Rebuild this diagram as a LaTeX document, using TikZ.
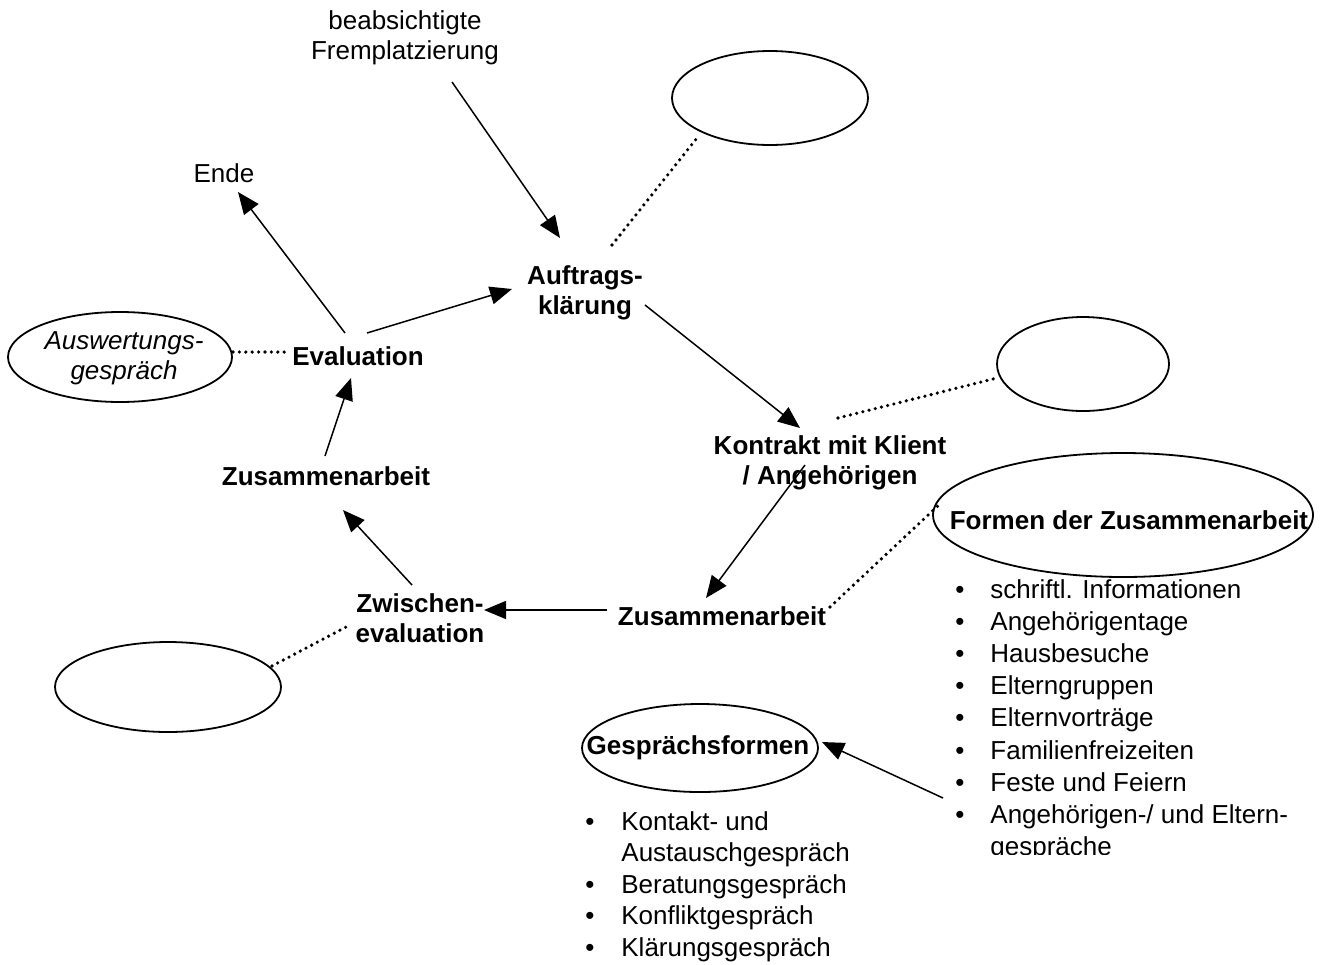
\documentclass[tikz,border=0pt]{standalone}
\usepackage{fontspec}
\setmainfont{Liberation Sans}
\usetikzlibrary{arrows.meta,shapes.geometric}
\begin{document}
\begin{tikzpicture}[x=0.5pt,y=-0.5pt,
  lbl/.style={inner sep=0pt, align=center, font=\fontsize{13}{15}\selectfont},
  blbl/.style={inner sep=0pt, align=center, font=\fontsize{13}{15}\selectfont\bfseries},
  ilbl/.style={inner sep=0pt, align=center, font=\fontsize{13}{15}\selectfont\itshape},
  ell/.style={draw, ellipse, inner sep=0pt, line width=0.9pt},
  arr/.style={line width=0.75pt, -{Triangle[length=11pt,width=9pt]}},
  dots/.style={line width=1.8pt, dash pattern=on 0pt off 3.2pt, line cap=round},
  lst/.style={inner sep=0pt, anchor=base west}]
\useasboundingbox (0,0) rectangle (1336,964);

% text nodes
\node[lbl] (frem) at (405,38) {beabsichtigte\\Fremplatzierung};
\node[lbl] (ende) at (224,173) {Ende};
\node[blbl] (auftrag) at (585,293) {Auftrags-\\klärung};
\node[blbl] (eval) at (358,356) {Evaluation};
\node[blbl] (kontrakt) at (830,463) {Kontrakt mit Klient\\/ Angehörigen};
\node[blbl] (zus1) at (326,476) {Zusammenarbeit};
\node[blbl] (zus2) at (722,616) {Zusammenarbeit};
\node[blbl] (zwischen) at (420,618) {Zwischen-\\evaluation};

% ellipses
\node[ell, minimum width=98pt, minimum height=47pt] (ell1) at (770,98) {};
\node[ell, minimum width=112pt, minimum height=45pt] (ausw) at (120,357) {};
\node[ilbl] (auswtext) at (124,358) {Auswertungs-\\gespräch};
\node[ell, minimum width=86pt, minimum height=47pt] (ell2) at (1083,364) {};
\node[ell, minimum width=190pt, minimum height=62pt] (formen) at (1123,515) {};
\node[blbl] (formentext) at (1129,520) {Formen der Zusammenarbeit};
\node[ell, minimum width=113pt, minimum height=45pt] (ell3) at (168,687) {};
\node[ell, minimum width=118pt, minimum height=44pt] (gespr) at (700,748) {};
\node[blbl] (gesprtext) at (698,748) {Gesprächsformen};

% lists
\begin{scope}
\clip (900,560) rectangle (1336,854);
\node[lst, font=\fontsize{13}{16.1}\selectfont] (list1) at (955,598) {\begin{tabular}[t]{@{}p{17.5pt}@{}l@{}}
•& schriftl. Informationen\\
•& Angehörigentage\\
•& Hausbesuche\\
•& Elterngruppen\\
•& Elternvorträge\\
•& Familienfreizeiten\\
•& Feste und Feiern\\
•& Angehörigen-/ und Eltern-\\
 & gespräche
\end{tabular}};
\end{scope}
\node[lst, font=\fontsize{13}{15.75}\selectfont] (list2) at (585,830) {\begin{tabular}[t]{@{}p{18pt}@{}l@{}}
•& Kontakt- und\\
 & Austauschgespräch\\
•& Beratungsgespräch\\
•& Konfliktgespräch\\
•& Klärungsgespräch
\end{tabular}};

% arrows
\draw[arr] ([shift={(47,44)}]frem.center) -- ([shift={(-25,-55)}]auftrag.center);
\draw[arr] ([shift={(-13,-23)}]eval.center) -- ([shift={(14,19)}]ende.center);
\draw[arr] ([shift={(9,-23)}]eval.center) -- ([shift={(-73,-4)}]auftrag.center);
\draw[arr] ([shift={(60,12)}]auftrag.center) -- ([shift={(-30,-35)}]kontrakt.center);
\draw[arr] ([shift={(-25,2)}]kontrakt.center) -- ([shift={(-16,-18)}]zus2.center);
\draw[arr] ([shift={(-115,-6)}]zus2.center) -- ([shift={(64,-8)}]zwischen.center);
\draw[arr] ([shift={(-8,-33)}]zwischen.center) -- ([shift={(17,34)}]zus1.center);
\draw[arr] ([shift={(-1,-20)}]zus1.center) -- ([shift={(-7,22)}]eval.center);
\draw[arr] ([shift={(-12,200)}]list1.base west) -- ([shift={(122,-6)}]gespr.center);

% dotted connectors
\draw[dots] ([shift={(27,-48)}]auftrag.center) -- ([shift={(-73,40)}]ell1.center);
\draw[dots] ([shift={(113,-5)}]ausw.center) -- ([shift={(-68,-4)}]eval.center);
\draw[dots] ([shift={(8,-45)}]kontrakt.center) -- ([shift={(-86,14)}]ell2.center);
\draw[dots] ([shift={(108,-9)}]zus2.center) -- ([shift={(-181,-13)}]formen.center);
\draw[dots] ([shift={(104,-21)}]ell3.center) -- ([shift={(-74,9)}]zwischen.center);
\end{tikzpicture}
\end{document}
